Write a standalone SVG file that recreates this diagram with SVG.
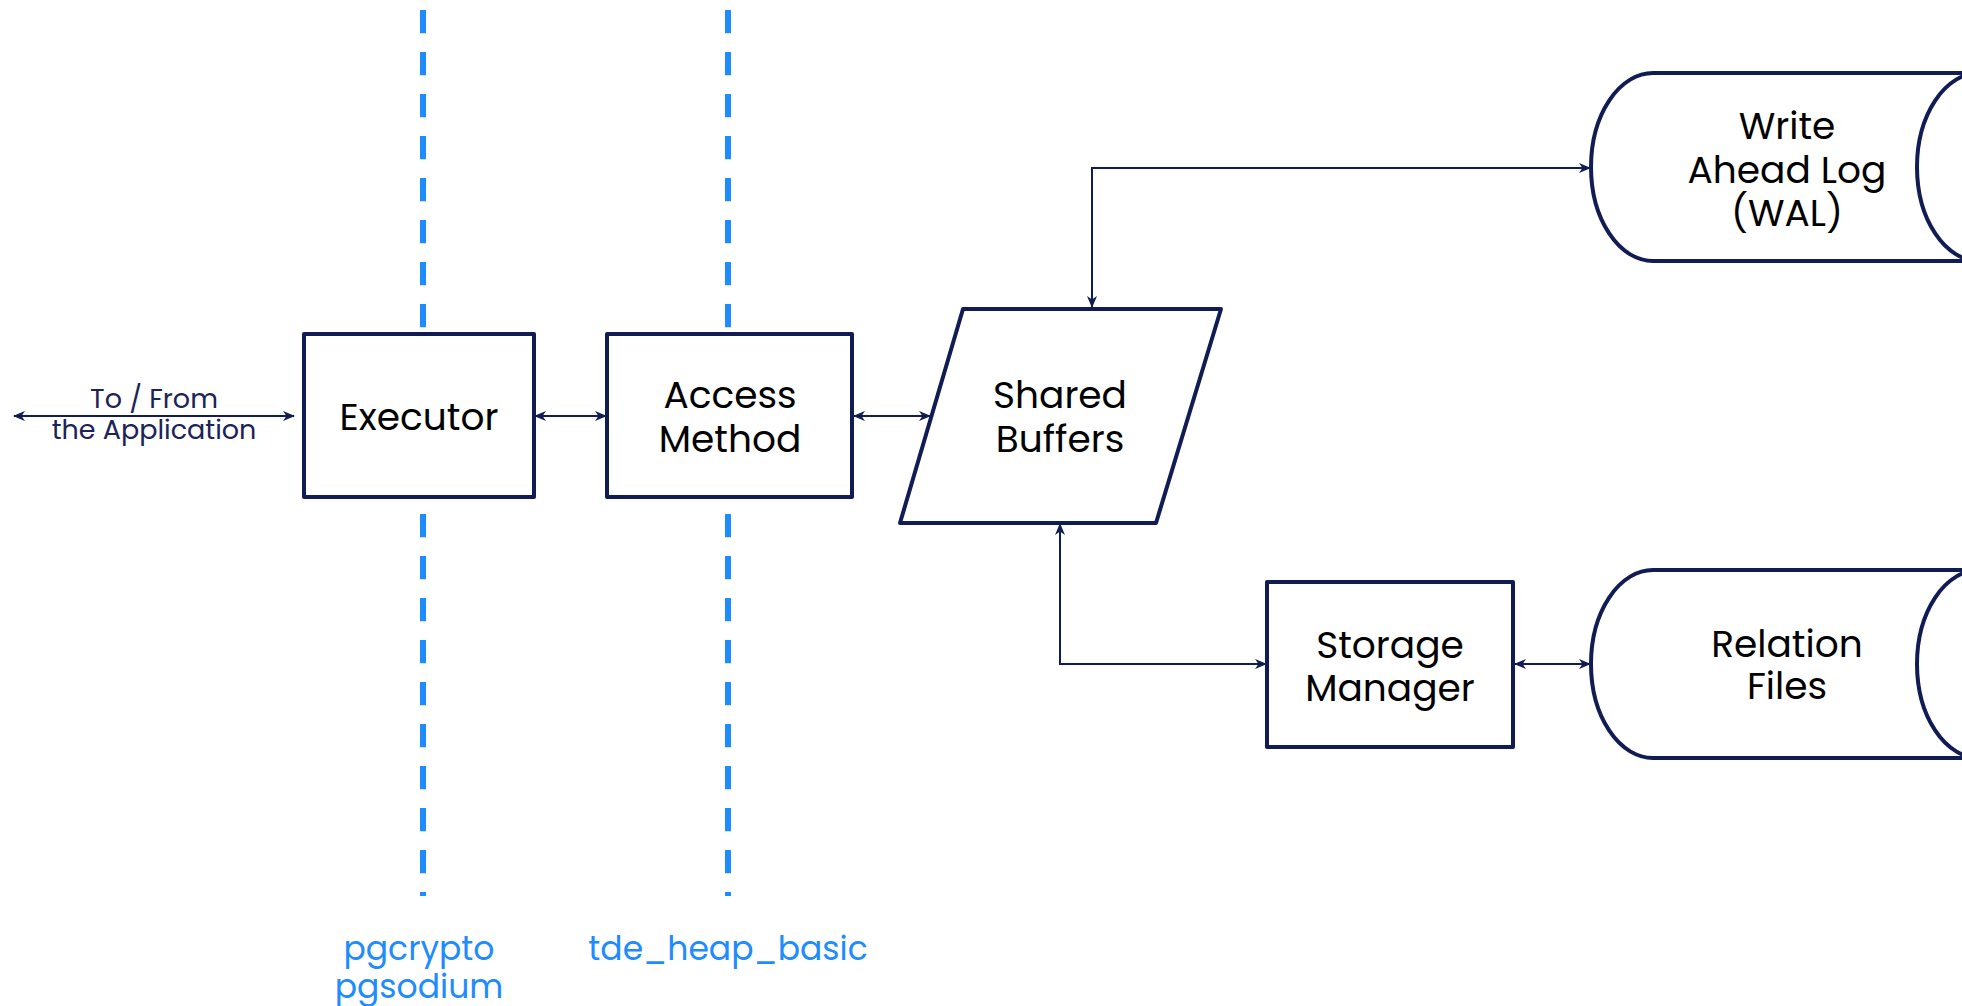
<svg xmlns="http://www.w3.org/2000/svg" width="1962" height="1006" viewBox="0 0 1962 1006">
<style>
.node{fill:#fff;stroke:#121c54;stroke-width:4;stroke-linejoin:round}
.nt{font-family:Poppins,"DejaVu Sans",sans-serif;font-size:37.5px;fill:#000;text-anchor:middle}
.lbl{font-family:Poppins,"DejaVu Sans",sans-serif;font-size:27px;fill:#1b2357;text-anchor:middle}
.blue{font-family:Poppins,"DejaVu Sans",sans-serif;font-size:33px;fill:#1e8bff;text-anchor:middle}
.dash{stroke:#1e8bff;stroke-width:6;stroke-dasharray:23.3 18.7;fill:none}
.conn{stroke:#121c54;stroke-width:2;fill:none}
</style>
<defs>
<marker id="ah" viewBox="0 0 12 10" refX="11" refY="5" markerWidth="12" markerHeight="10" markerUnits="userSpaceOnUse" orient="auto-start-reverse">
<path d="M0,0 L12,5 L0,10 L3.5,5 z" fill="#121c54"/>
</marker>
</defs>
<rect width="1962" height="1006" fill="#fff"/>
<g id="boundaries">
<line class="dash" x1="423" y1="10" x2="423" y2="896"/>
<line class="dash" x1="728" y1="10" x2="728" y2="896"/>
<text class="blue" x="419" y="960">pgcrypto</text>
<text class="blue" x="419" y="998">pgsodium</text>
<text class="blue" x="728" y="960">tde_heap_basic</text>
</g>
<g id="connectors">
<line class="conn" x1="14" y1="416" x2="294" y2="416" marker-start="url(#ah)" marker-end="url(#ah)"/>
<line class="conn" x1="535" y1="416" x2="606" y2="416" marker-start="url(#ah)" marker-end="url(#ah)"/>
<line class="conn" x1="854" y1="416" x2="930" y2="416" marker-start="url(#ah)" marker-end="url(#ah)"/>
<polyline class="conn" points="1092,307 1092,168 1590,168" marker-start="url(#ah)" marker-end="url(#ah)"/>
<polyline class="conn" points="1060,524 1060,664 1266,664" marker-start="url(#ah)" marker-end="url(#ah)"/>
<line class="conn" x1="1515" y1="664" x2="1590" y2="664" marker-start="url(#ah)" marker-end="url(#ah)"/>
<text class="lbl" x="154" y="408">To / From</text>
<text class="lbl" x="154" y="439">the Application</text>
</g>
<g id="executor">
<rect class="node" x="304" y="334" width="230" height="163"/>
<text class="nt" x="419" y="430">Executor</text>
</g>
<g id="access-method">
<rect class="node" x="607" y="334" width="245" height="163"/>
<text class="nt" x="730" y="408">Access</text>
<text class="nt" x="730" y="452">Method</text>
</g>
<g id="shared-buffers">
<polygon class="node" points="963,309 1221,309 1156,523 900,523"/>
<text class="nt" x="1060" y="408">Shared</text>
<text class="nt" x="1060" y="452">Buffers</text>
</g>
<g id="wal">
<path class="node" d="M2100,73 H1653 A62 94 0 0 0 1653,261 H2100"/>
<ellipse class="node" cx="1979" cy="167" rx="62" ry="94"/>
<text class="nt" x="1787" y="139">Write</text>
<text class="nt" x="1787" y="183">Ahead Log</text>
<text class="nt" x="1787" y="226">(WAL)</text>
</g>
<g id="storage-manager">
<rect class="node" x="1267" y="582" width="246" height="165"/>
<text class="nt" x="1390" y="658">Storage</text>
<text class="nt" x="1390" y="701">Manager</text>
</g>
<g id="relation-files">
<path class="node" d="M2100,570 H1653 A62 94 0 0 0 1653,758 H2100"/>
<ellipse class="node" cx="1979" cy="664" rx="62" ry="94"/>
<text class="nt" x="1787" y="657">Relation</text>
<text class="nt" x="1787" y="699">Files</text>
</g>
</svg>
